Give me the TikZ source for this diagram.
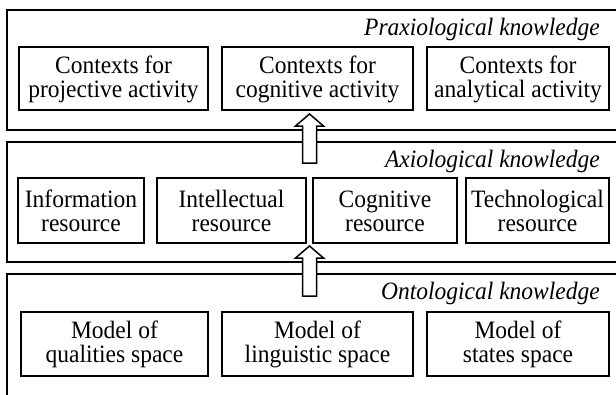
\documentclass[tikz,border=0pt]{standalone}
\usepackage{fontspec}
\setmainfont[FakeStretch=0.94]{Liberation Serif}
\usetikzlibrary{calc}
\begin{document}
\begin{tikzpicture}[x=1pt,y=-1pt,
  panel/.style={draw,line width=1.7pt},
  kbox/.style={draw,line width=1.6pt,fill=white},
  btext/.style={align=center,font=\fontsize{25}{24}\selectfont,inner sep=0pt},
  plabel/.style={anchor=east,font=\fontsize{25}{24}\selectfont\itshape,inner sep=0pt},
  blockarrow/.style={draw,line width=1.5pt,fill=white,line join=miter}]
\useasboundingbox (0,0) rectangle (616,394);
\clip (0,0) rectangle (616,394);
% panels
\draw[panel] (7,10) rectangle (625,130);
\draw[panel] (7,142) rectangle (625,262);
\draw[panel] (7,274) rectangle (625,410);
\node[plabel] (lp) at (600,29) {Praxiological knowledge};
\node[plabel] (la) at (600,161) {Axiological knowledge};
\node[plabel] (lo) at (600,293) {Ontological knowledge};
% row 1
\draw[kbox] (19,47) rectangle (208,110);
\draw[kbox] (222,47) rectangle (413,110);
\draw[kbox] (427,47) rectangle (609,110);
\node[btext] (p1) at (113.5,79) {Contexts for\\projective activity};
\node[btext] (p2) at (317.5,79) {Contexts for\\cognitive activity};
\node[btext] (p3) at (518,79) {Contexts for\\analytical activity};
% row 2
\draw[kbox] (18,178) rectangle (144,243);
\draw[kbox] (157,178) rectangle (306,243);
\draw[kbox] (313,178) rectangle (457,243);
\draw[kbox] (466,178) rectangle (609,243);
\node[btext] (a1) at (81,211) {Information\\resource};
\node[btext] (a2) at (231.5,211) {Intellectual\\resource};
\node[btext] (a3) at (385,211) {Cognitive\\resource};
\node[btext] (a4) at (537.5,211) {Technological\\resource};
% row 3
\draw[kbox] (21,312) rectangle (208,376);
\draw[kbox] (222,312) rectangle (413,376);
\draw[kbox] (427,312) rectangle (609,376);
\node[btext] (o1) at (114.5,344.5) {Model of\\qualities space};
\node[btext] (o2) at (317.5,344.5) {Model of\\linguistic space};
\node[btext] (o3) at (518,344.5) {Model of\\states space};
% block arrows
\coordinate (t1) at (309.5,114);
\coordinate (b1) at (309.5,163);
\coordinate (t2) at (309.5,246);
\coordinate (b2) at (309.5,296);
\draw[blockarrow] (t1) -- ($(t1)+(14,12)$) -- ($(t1)+(7,12)$) -- ($(b1)+(7,0)$) -- ($(b1)+(-7,0)$) -- ($(t1)+(-7,12)$) -- ($(t1)+(-14,12)$) -- cycle;
\draw[blockarrow] (t2) -- ($(t2)+(14,12)$) -- ($(t2)+(7,12)$) -- ($(b2)+(7,0)$) -- ($(b2)+(-7,0)$) -- ($(t2)+(-7,12)$) -- ($(t2)+(-14,12)$) -- cycle;
\end{tikzpicture}
\end{document}
